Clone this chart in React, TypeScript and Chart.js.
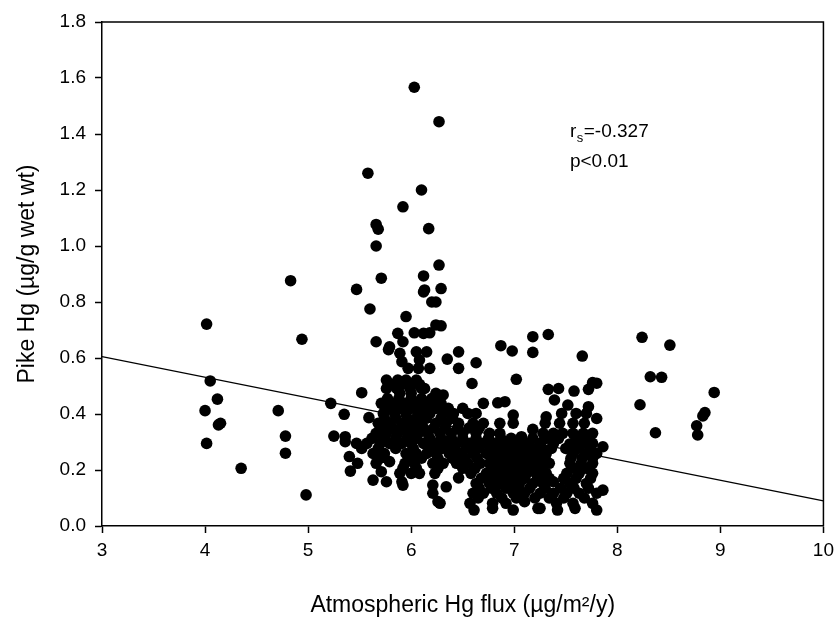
import React, { useEffect, useRef } from "react";
import { Chart, registerables } from "chart.js";

Chart.register(...registerables);

// [atmospheric Hg flux (µg/m²/y), pike Hg (µg/g wet wt)]
const highOutliers: [number, number][] = [
  [6.03, 1.567], [6.27, 1.444], [5.58, 1.26], [6.1, 1.2], [5.92, 1.14], [5.66, 1.077], [5.68, 1.06],
  [6.17, 1.062], [5.66, 1.0], [6.27, 0.932], [6.12, 0.893], [5.71, 0.885], [4.83, 0.876], [5.47, 0.845],
  [6.13, 0.843], [6.29, 0.848], [6.12, 0.836], [6.2, 0.8], [6.24, 0.8], [5.6, 0.775], [5.95, 0.748],
];

const westSites: [number, number][] = [
  [4.015, 0.721], [4.94, 0.667], [4.05, 0.518], [4.12, 0.453], [4.0, 0.412], [4.13, 0.361], [4.15, 0.367],
  [4.015, 0.295], [4.35, 0.206], [4.98, 0.111], [4.71, 0.412], [4.78, 0.321], [4.78, 0.26], [5.22, 0.438],
  [5.35, 0.399], [5.25, 0.321], [5.36, 0.319], [5.36, 0.301], [5.4, 0.248], [5.48, 0.224], [5.41, 0.196],
  [5.52, 0.476],
];

const eastSites: [number, number][] = [
  [8.24, 0.674], [8.51, 0.646], [8.32, 0.533], [8.43, 0.531], [8.22, 0.433], [8.37, 0.333], [8.94, 0.477],
  [8.85, 0.405], [8.83, 0.393], [8.77, 0.358], [8.78, 0.325],
];

const clusterUpper: [number, number][] = [
  [6.24, 0.718], [6.29, 0.715],
  [5.87, 0.688], [6.03, 0.69], [6.12, 0.688], [6.18, 0.69], [7.18, 0.676], [7.33, 0.684],
  [5.66, 0.658], [5.79, 0.64], [5.92, 0.658],
  [6.87, 0.644], [6.98, 0.625], [7.18, 0.62], [7.66, 0.607],
  [5.78, 0.63], [5.89, 0.617], [6.05, 0.622], [6.15, 0.622], [6.46, 0.622],
  [5.91, 0.587], [6.08, 0.593], [6.35, 0.596], [6.63, 0.583],
  [5.97, 0.563], [6.07, 0.563], [6.18, 0.563], [6.46, 0.563],
  [5.76, 0.521], [5.87, 0.521], [5.95, 0.521], [6.05, 0.521], [6.13, 0.491], [7.02, 0.524], [6.59, 0.509],
  [7.76, 0.512], [7.8, 0.51],
  [5.81, 0.506], [5.91, 0.506], [6.0, 0.506], [6.08, 0.506],
  [5.76, 0.491], [5.86, 0.491], [5.99, 0.491], [6.1, 0.491], [7.33, 0.488], [7.43, 0.491], [7.58, 0.482],
  [7.72, 0.488],
  [5.89, 0.474], [6.0, 0.474], [6.24, 0.474], [6.31, 0.468],
  [5.77, 0.455], [5.88, 0.455], [6.0, 0.455], [6.1, 0.455], [6.2, 0.455], [6.27, 0.455],
  [5.71, 0.438], [5.82, 0.438], [5.94, 0.438], [6.05, 0.438], [6.16, 0.438], [6.29, 0.438], [6.7, 0.438],
  [6.84, 0.44], [6.91, 0.444], [7.39, 0.45], [7.52, 0.432], [7.72, 0.426],
  [5.78, 0.42], [5.89, 0.42], [6.0, 0.42], [6.12, 0.42], [6.24, 0.42], [6.36, 0.42], [6.5, 0.42],
  [5.73, 0.402], [5.84, 0.402], [5.95, 0.402], [6.07, 0.402], [6.18, 0.402], [6.31, 0.402], [6.41, 0.402],
  [6.55, 0.402], [6.63, 0.402], [6.99, 0.396], [7.31, 0.39], [7.46, 0.402], [7.6, 0.402], [7.7, 0.402],
  [5.74, 0.385], [5.85, 0.385], [5.96, 0.385], [6.05, 0.385], [6.15, 0.385], [6.29, 0.385], [6.4, 0.385],
  [5.59, 0.387], [5.68, 0.367], [5.79, 0.367], [5.91, 0.367], [6.0, 0.367], [6.1, 0.367], [6.24, 0.367],
  [6.34, 0.367], [6.46, 0.367], [6.6, 0.367], [6.7, 0.367], [6.86, 0.367], [6.99, 0.367], [7.18, 0.345],
  [7.3, 0.367], [7.44, 0.367], [7.57, 0.367], [7.68, 0.367], [7.8, 0.384],
  [5.71, 0.35], [5.82, 0.35], [5.92, 0.35], [6.02, 0.35], [6.12, 0.35], [6.22, 0.35], [6.33, 0.35],
  [6.45, 0.35], [6.56, 0.35], [6.66, 0.35],
];

const clusterLower: [number, number][] = [
  [5.66, 0.331], [5.76, 0.331], [5.87, 0.331], [5.97, 0.331], [6.07, 0.331], [6.16, 0.331], [6.28, 0.331],
  [6.39, 0.331], [6.5, 0.331], [6.63, 0.331], [6.76, 0.331], [6.86, 0.331], [7.07, 0.319], [7.28, 0.331],
  [7.38, 0.331], [7.47, 0.331], [7.57, 0.331], [7.67, 0.331], [7.76, 0.331],
  [5.62, 0.313], [5.74, 0.313], [5.85, 0.313], [5.96, 0.313], [6.05, 0.313], [6.18, 0.313], [6.29, 0.313],
  [6.39, 0.313], [6.5, 0.313], [6.63, 0.313], [6.75, 0.313], [6.87, 0.313], [6.97, 0.313], [7.18, 0.313],
  [7.31, 0.313], [7.43, 0.313], [7.6, 0.313], [7.72, 0.313],
  [5.47, 0.295], [5.57, 0.295], [5.7, 0.295], [5.79, 0.295], [5.91, 0.295], [6.0, 0.295], [6.12, 0.295],
  [6.23, 0.295], [6.34, 0.295], [6.44, 0.295], [6.57, 0.295], [6.7, 0.295], [6.81, 0.295], [6.92, 0.295],
  [7.02, 0.295], [7.12, 0.295], [7.25, 0.295], [7.38, 0.295], [7.54, 0.293], [7.67, 0.295], [7.76, 0.295],
  [7.86, 0.283],
  [5.52, 0.277], [5.68, 0.277], [5.85, 0.277], [6.02, 0.277], [6.2, 0.277], [6.3, 0.277], [6.42, 0.277],
  [6.53, 0.277], [6.65, 0.277], [6.77, 0.277], [6.88, 0.277], [6.98, 0.277], [7.08, 0.277], [7.17, 0.277],
  [7.27, 0.277], [7.36, 0.277], [7.5, 0.277], [7.62, 0.277], [7.74, 0.277],
  [5.63, 0.259], [5.74, 0.259], [5.95, 0.259], [6.05, 0.259], [6.15, 0.259], [6.24, 0.259], [6.37, 0.259],
  [6.47, 0.259], [6.6, 0.259], [6.73, 0.259], [6.83, 0.259], [6.92, 0.259], [7.04, 0.259], [7.12, 0.259],
  [7.21, 0.259], [7.31, 0.259], [7.57, 0.259], [7.7, 0.259], [7.8, 0.259],
  [5.7, 0.242], [6.0, 0.242], [6.1, 0.242], [6.26, 0.242], [6.4, 0.242], [6.52, 0.242], [6.64, 0.242],
  [6.8, 0.242], [6.9, 0.242], [7.0, 0.242], [7.1, 0.242], [7.2, 0.242], [7.3, 0.242], [7.55, 0.242],
  [7.66, 0.242], [7.76, 0.242],
  [5.66, 0.224], [5.79, 0.23], [5.94, 0.224], [6.03, 0.224], [6.21, 0.224], [6.31, 0.224], [6.44, 0.224],
  [6.55, 0.224], [6.67, 0.224], [6.76, 0.224], [6.86, 0.224], [6.96, 0.224], [7.05, 0.224], [7.15, 0.224],
  [7.25, 0.224], [7.34, 0.224], [7.54, 0.224], [7.65, 0.224], [7.76, 0.224],
  [5.92, 0.206], [6.05, 0.206], [6.26, 0.206], [6.5, 0.206], [6.62, 0.206], [6.78, 0.206], [6.88, 0.206],
  [6.98, 0.206], [7.08, 0.206], [7.18, 0.206], [7.27, 0.206], [7.58, 0.206], [7.7, 0.206],
  [5.63, 0.164], [5.71, 0.194], [5.89, 0.188], [6.0, 0.188], [6.08, 0.188], [6.23, 0.188], [6.46, 0.172],
  [6.58, 0.188], [6.73, 0.188], [6.83, 0.188], [6.92, 0.188], [7.02, 0.188], [7.12, 0.188], [7.21, 0.188],
  [7.31, 0.188], [7.51, 0.188], [7.63, 0.188], [7.76, 0.188],
  [6.68, 0.17], [6.8, 0.17], [6.9, 0.17], [7.0, 0.17], [7.1, 0.17], [7.24, 0.17], [7.34, 0.17],
  [7.48, 0.17], [7.6, 0.17], [7.74, 0.17],
  [5.76, 0.158], [5.91, 0.158], [5.92, 0.146], [6.21, 0.146], [6.34, 0.14], [6.63, 0.152], [6.76, 0.152],
  [6.86, 0.152], [6.96, 0.152], [7.05, 0.152], [7.18, 0.152], [7.28, 0.152], [7.38, 0.158], [7.54, 0.152],
  [7.7, 0.152], [7.86, 0.128],
  [6.66, 0.135], [6.78, 0.135], [6.92, 0.135], [7.04, 0.135], [7.15, 0.135], [7.3, 0.135], [7.45, 0.135],
  [7.58, 0.135], [7.72, 0.135],
  [6.21, 0.117], [6.26, 0.087], [6.6, 0.117], [6.7, 0.117], [6.83, 0.117], [6.99, 0.117], [7.1, 0.117],
  [7.25, 0.117], [7.38, 0.117], [7.51, 0.117], [7.63, 0.117], [7.8, 0.117],
  [6.65, 0.1], [6.88, 0.1], [7.02, 0.1], [7.2, 0.1], [7.34, 0.1], [7.48, 0.1], [7.68, 0.1],
  [6.28, 0.081], [6.57, 0.081], [6.79, 0.081], [6.92, 0.081], [7.1, 0.087], [7.25, 0.063], [7.41, 0.081],
  [7.57, 0.081], [7.76, 0.081],
  [6.61, 0.057], [6.79, 0.063], [6.99, 0.057], [7.23, 0.063], [7.42, 0.057], [7.59, 0.063], [7.8, 0.057],
];

const regressionX = [3, 10];
const regressionY = [0.605, 0.09];

const xTicks = [3, 4, 5, 6, 7, 8, 9, 10];
const yTicks = [0, 0.2, 0.4, 0.6, 0.8, 1.0, 1.2, 1.4, 1.6, 1.8];

const statR = "-0.327";
const statP = "p<0.01";

const FONT = "'Liberation Sans', Arial, Helvetica, sans-serif";

const framePlugin = {
  id: "frameAndStats",
  afterDraw(chart: any) {
    const { ctx, chartArea, scales } = chart;
    ctx.save();
    ctx.strokeStyle = "#000";
    ctx.lineWidth = 1.5;
    ctx.beginPath();
    ctx.moveTo(chartArea.left, chartArea.top);
    ctx.lineTo(chartArea.right, chartArea.top);
    ctx.lineTo(chartArea.right, chartArea.bottom);
    ctx.stroke();

    const x0 = scales.x.getPixelForValue(7.54);
    const y1 = scales.y.getPixelForValue(1.39);
    const y2 = scales.y.getPixelForValue(1.283);
    ctx.fillStyle = "#000";
    ctx.textBaseline = "alphabetic";
    ctx.textAlign = "left";
    ctx.font = `19px ${FONT}`;
    ctx.fillText("r", x0, y1);
    let cx = x0 + ctx.measureText("r").width + 0.5;
    ctx.font = `13px ${FONT}`;
    ctx.fillText("s", cx, y1 + 5);
    cx += ctx.measureText("s").width + 0.5;
    ctx.font = `19px ${FONT}`;
    ctx.fillText("=" + statR, cx, y1);
    ctx.fillText(statP, x0, y2);
    ctx.restore();
  },
};

export default function App() {
  const ref = useRef<HTMLCanvasElement | null>(null);

  useEffect(() => {
    if (!ref.current) return;
    const all = [...highOutliers, ...westSites, ...eastSites, ...clusterUpper, ...clusterLower];
    const chart = new Chart(ref.current, {
      type: "scatter",
      data: {
        datasets: [
          {
            type: "scatter",
            label: "Pike",
            data: all.map(([x, y]) => ({ x, y })),
            backgroundColor: "#000",
            borderColor: "#000",
            borderWidth: 0,
            pointRadius: 5.8,
            pointHoverRadius: 5.8,
            order: 0,
          },
          {
            type: "line",
            label: "Fit",
            data: regressionX.map((x, i) => ({ x, y: regressionY[i] })),
            borderColor: "#000",
            borderWidth: 1.3,
            pointRadius: 0,
            fill: false,
            order: 1,
          } as any,
        ],
      },
      options: {
        animation: false,
        responsive: true,
        maintainAspectRatio: false,
        layout: { padding: { left: 0, top: 22, right: 16, bottom: 0 } },
        plugins: { legend: { display: false }, tooltip: { enabled: false } },
        scales: {
          x: {
            type: "linear",
            min: 3,
            max: 10,
            afterFit: (s: any) => { s.height = 95; },
            afterBuildTicks: (s: any) => { s.ticks = xTicks.map((v) => ({ value: v })); },
            ticks: { color: "#000", font: { size: 19, family: FONT }, padding: 6, callback: (v: any) => String(v) },
            grid: { drawOnChartArea: false, drawTicks: true, tickLength: 7, tickColor: "#000", tickWidth: 1.5 },
            border: { display: true, color: "#000", width: 1.5 },
            title: { display: true, text: "Atmospheric Hg flux (µg/m²/y)", color: "#000", font: { size: 23, family: FONT }, padding: { top: 0, bottom: 2 } },
          },
          y: {
            type: "linear",
            min: 0,
            max: 1.8,
            afterFit: (s: any) => { s.width = 102; },
            afterBuildTicks: (s: any) => { s.ticks = yTicks.map((v) => ({ value: v })); },
            ticks: { color: "#000", font: { size: 19, family: FONT }, padding: 9, callback: (v: any) => Number(v).toFixed(1) },
            grid: { drawOnChartArea: false, drawTicks: true, tickLength: 7, tickColor: "#000", tickWidth: 1.5 },
            border: { display: true, color: "#000", width: 1.5 },
            title: { display: true, text: "Pike Hg (µg/g wet wt)", color: "#000", font: { size: 23, family: FONT }, padding: { top: 14, bottom: 0 } },
          },
        },
      },
      plugins: [framePlugin],
    });
    return () => chart.destroy();
  }, []);

  return (
    <div style={{ position: "absolute", left: 0, top: 0, width: 840, height: 621, background: "#fff" }}>
      <canvas ref={ref} />
    </div>
  );
}
